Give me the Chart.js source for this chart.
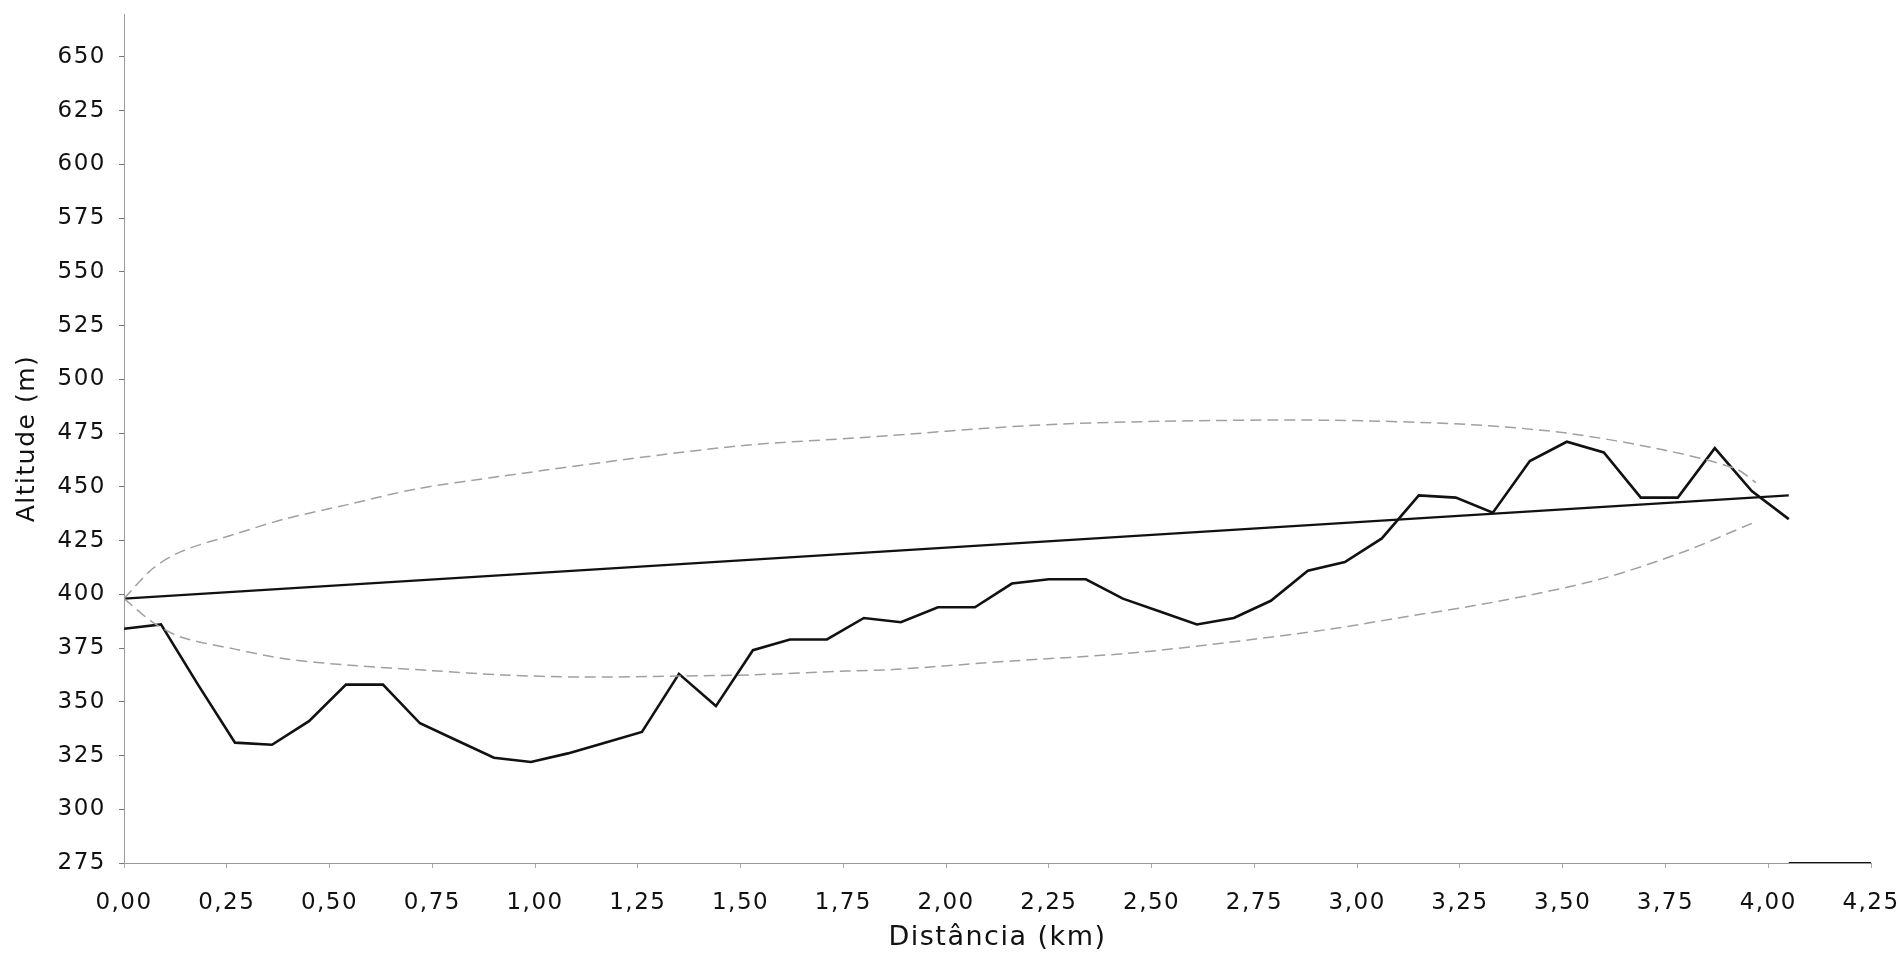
<!DOCTYPE html>
<html>
<head>
<meta charset="utf-8">
<title>Perfil de altitude</title>
<script src="https://cdn.jsdelivr.net/npm/chart.js@4.4.0/dist/chart.umd.min.js"></script>
<style>
    html, body { margin: 0; padding: 0; background: #fff; }
    #wrap { width: 1898px; height: 953px; }
</style>
</head>
<body>
<div id="wrap"><canvas id="profileChart" width="1898" height="953"></canvas></div>
<script>
// Perfil do percurso (km / m)
const distances = [0.00, 0.09, 0.18, 0.27, 0.36, 0.45, 0.54, 0.63, 0.72, 0.81,
                   0.90, 0.99, 1.08, 1.17, 1.26, 1.35, 1.44, 1.53, 1.62, 1.71,
                   1.80, 1.89, 1.98, 2.07, 2.16, 2.25, 2.34, 2.43, 2.52, 2.61,
                   2.70, 2.79, 2.88, 2.97, 3.06, 3.15, 3.24, 3.33, 3.42, 3.51,
                   3.60, 3.69, 3.78, 3.87, 3.96, 4.05];
const altitudes = [384, 386, 358, 331, 330, 341, 358, 358, 340, 332,
                   324, 322, 326, 331, 336, 363, 348, 374, 379, 379,
                   389, 387, 394, 394, 405, 407, 407, 398, 392, 386,
                   389, 397, 411, 415, 426, 446, 445, 438, 462, 471,
                   466, 445, 445, 468, 448, 435];

// Linha de tendencia
const trendX = [0.00, 4.05];
const trendY = [398, 446];

// Limites (curvas tracejadas)
const upperX = [0.00, 0.07, 0.14, 0.27, 0.39, 0.55, 0.71, 0.92, 1.27, 1.52,
                1.80, 2.20, 2.52, 2.93, 3.27, 3.51, 3.75, 3.92, 3.97];
const upperY = [398, 412, 420, 428, 435, 442, 449, 455, 464, 469.5,
                473, 478.5, 480.5, 481, 479, 475, 467, 458.5, 452];
const lowerX = [0.00, 0.07, 0.14, 0.27, 0.39, 0.55, 0.75, 0.92, 1.11, 1.35,
                1.52, 1.76, 1.87, 2.16, 2.44, 2.68, 2.93, 3.10, 3.35, 3.59,
                3.79, 3.96];
const lowerY = [398, 387, 380, 374.5, 370, 367, 364.5, 362.5, 361.5, 362,
                362.5, 364.3, 365, 369, 372.5, 377.5, 383.7, 389, 397, 407,
                419.5, 433];

// trecho escuro no eixo x
const baseX = [4.05, 4.25];
const baseY = [275, 275];

const xTickValues = [0, 0.25, 0.5, 0.75, 1, 1.25, 1.5, 1.75, 2, 2.25, 2.5, 2.75, 3, 3.25, 3.5, 3.75, 4, 4.25];
const xTickLabels = ['0,00', '0,25', '0,50', '0,75', '1,00', '1,25', '1,50', '1,75', '2,00',
                     '2,25', '2,50', '2,75', '3,00', '3,25', '3,50', '3,75', '4,00', '4,25'];
const yTickValues = [275, 300, 325, 350, 375, 400, 425, 450, 475, 500, 525, 550, 575, 600, 625, 650];
const yTickLabels = ['275', '300', '325', '350', '375', '400', '425', '450',
                     '475', '500', '525', '550', '575', '600', '625', '650'];

function toPoints(xs, ys) {
    return xs.map(function(x, i) { return { x: x, y: ys[i] }; });
}

const tickFont = { family: 'DejaVu Sans', size: 23 };

// o texto do original e um pouco mais largo
const spacingPlugin = {
    id: 'spacing',
    beforeDraw: function(chart) { chart.ctx.letterSpacing = '1.5px'; },
    afterDraw: function(chart) { chart.ctx.letterSpacing = '0px'; }
};

const ctx = document.getElementById('profileChart').getContext('2d');

const profileChart = new Chart(ctx, {
    type: 'line',
    data: {
        datasets: [
            {
                label: 'Limite superior',
                data: toPoints(upperX, upperY),
                borderColor: '#a0a0a0',
                borderWidth: 1.5,
                borderDash: [11, 6],
                pointRadius: 0,
                tension: 0.3
            },
            {
                label: 'Limite inferior',
                data: toPoints(lowerX, lowerY),
                borderColor: '#a0a0a0',
                borderWidth: 1.5,
                borderDash: [11, 6],
                pointRadius: 0,
                tension: 0.3
            },
            {
                label: 'Tendência',
                data: toPoints(trendX, trendY),
                borderColor: '#111',
                borderWidth: 2.2,
                pointRadius: 0
            },
            {
                label: 'Eixo',
                data: toPoints(baseX, baseY),
                borderColor: '#111',
                borderWidth: 2.2,
                pointRadius: 0
            },
            {
                label: 'Altitude',
                data: toPoints(distances, altitudes),
                borderColor: '#111',
                borderWidth: 2.6,
                pointRadius: 0,
                tension: 0
            }
        ]
    },
    plugins: [spacingPlugin],
    options: {
        responsive: false,
        animation: false,
        layout: {
            padding: { left: 0, top: 14, right: 27, bottom: 0 }
        },
        plugins: {
            legend: { display: false },
            tooltip: { enabled: false }
        },
        scales: {
            x: {
                type: 'linear',
                min: 0,
                max: 4.25,
                afterBuildTicks: function(scale) {
                    scale.ticks = xTickValues.map(function(v) { return { value: v }; });
                },
                afterFit: function(scale) {
                    scale.height = 90;
                    scale.paddingLeft = 0;
                    scale.paddingRight = 0;
                },
                ticks: {
                    autoSkip: false,
                    maxRotation: 0,
                    padding: 21,
                    color: '#111',
                    font: tickFont,
                    callback: function(value) {
                        return xTickLabels[xTickValues.indexOf(value)];
                    }
                },
                grid: {
                    display: true,
                    drawOnChartArea: false,
                    drawTicks: true,
                    tickLength: 5,
                    color: '#aaa'
                },
                border: { display: true, color: '#999', width: 1, dash: [2, 2] },
                title: {
                    display: true,
                    text: 'Distância (km)',
                    color: '#111',
                    font: { family: 'DejaVu Sans', size: 27, lineHeight: 1 },
                    padding: { top: 0, bottom: 2 }
                }
            },
            y: {
                type: 'linear',
                min: 275,
                max: 670,
                afterBuildTicks: function(scale) {
                    scale.ticks = yTickValues.map(function(v) { return { value: v }; });
                },
                afterFit: function(scale) {
                    scale.width = 124;
                    scale.paddingTop = 0;
                    scale.paddingBottom = 0;
                },
                ticks: {
                    padding: 13,
                    color: '#111',
                    font: tickFont,
                    callback: function(value) {
                        return yTickLabels[yTickValues.indexOf(value)];
                    }
                },
                grid: {
                    display: true,
                    drawOnChartArea: false,
                    drawTicks: true,
                    tickLength: 5,
                    color: '#777'
                },
                border: { display: true, color: '#999', width: 1, dash: [2, 2] },
                title: {
                    display: true,
                    text: 'Altitude (m)',
                    color: '#111',
                    font: { family: 'DejaVu Sans', size: 25 },
                    padding: { top: 12, bottom: 0 }
                }
            }
        }
    }
});
</script>
</body>
</html>
